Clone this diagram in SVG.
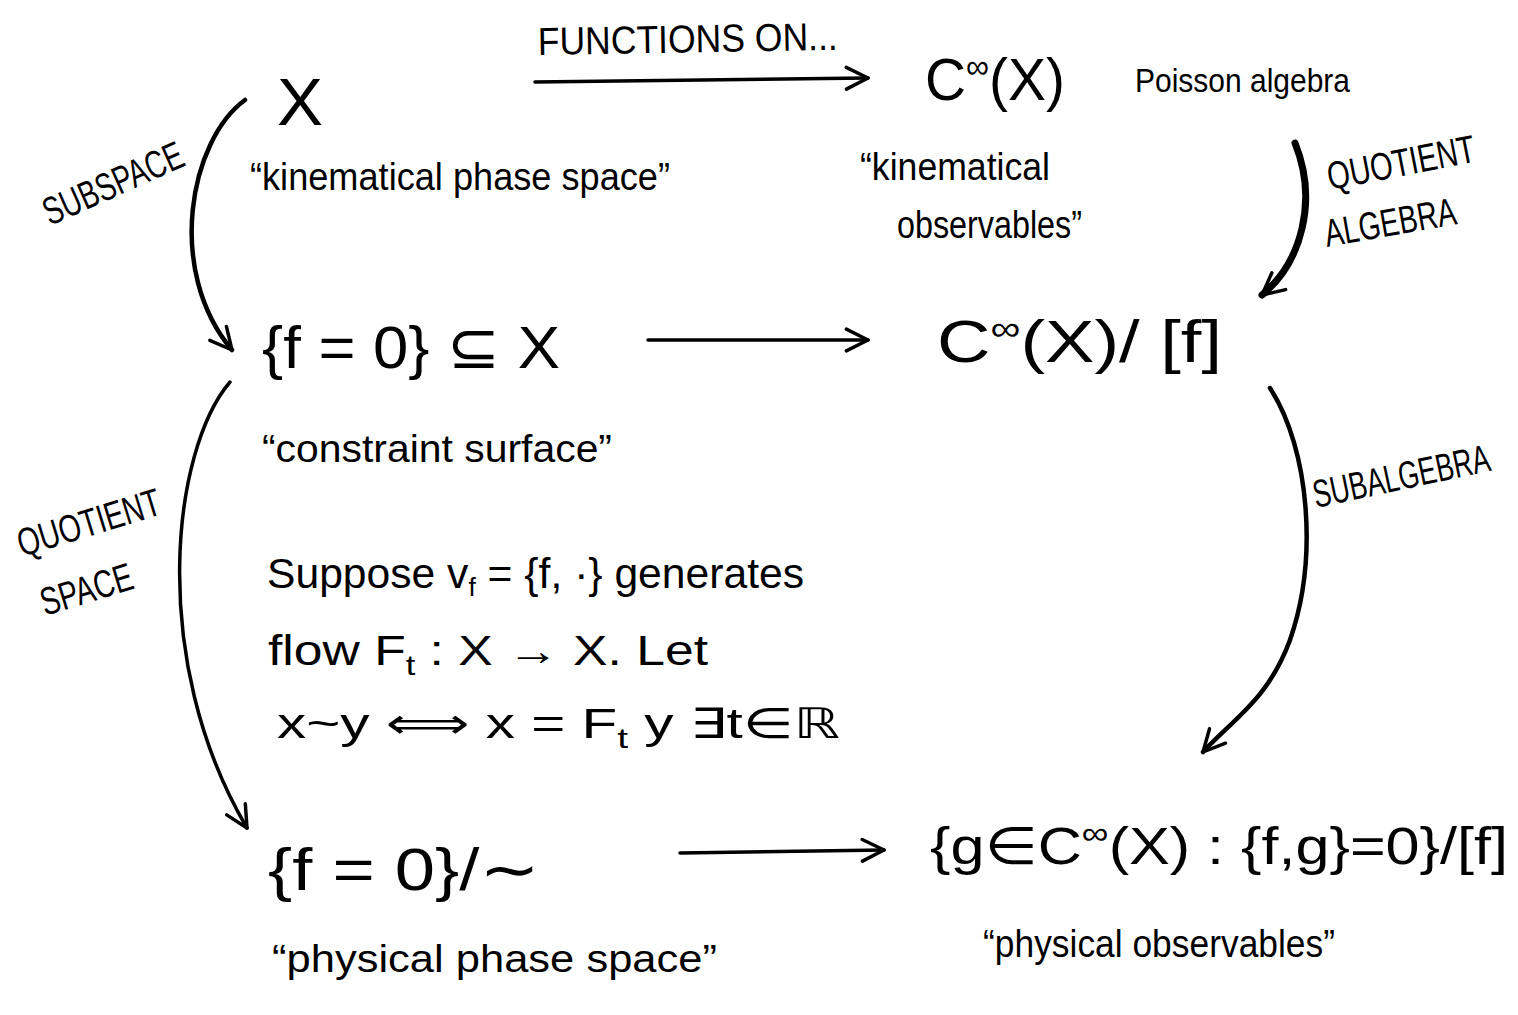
<svg xmlns="http://www.w3.org/2000/svg" width="1518" height="1015" viewBox="0 0 1518 1015">
<defs>
<style>
text{font-family:"Liberation Sans","DejaVu Sans",sans-serif;fill:#000;}
.lbl{font-size:30px;}
.cap{font-size:38px;}
.big{font-size:60px;}
.mid{font-size:42px;}
.conn{fill:none;stroke:#000;stroke-width:3.5;stroke-linecap:round;}
</style>
<marker id="ah" viewBox="0 0 12 12" refX="11" refY="6" markerWidth="26" markerHeight="26" markerUnits="userSpaceOnUse" orient="auto">
<path d="M1,1 L11,6 L1,11" fill="none" stroke="#000" stroke-width="1.6" stroke-linecap="round" stroke-linejoin="round"/>
</marker>
</defs>
<rect width="1518" height="1015" fill="#fff"/>

<g id="connectors">
<g id="e-functions">
<path class="conn" d="M535,82 L868,78" marker-end="url(#ah)"/>
<text class="lbl" x="0" y="0" textLength="300" lengthAdjust="spacingAndGlyphs" transform="translate(538,55) rotate(-1) scale(1,1.3)">FUNCTIONS ON...</text>
</g>
<g id="e-subspace">
<path class="conn" d="M245,100 C190,140 165,270 232,350" style="stroke-width:4.5" marker-end="url(#ah)"/>
<text class="lbl" x="0" y="0" textLength="150" lengthAdjust="spacingAndGlyphs" transform="translate(50,226) rotate(-24) scale(1,1.3)">SUBSPACE</text>
</g>
<g id="e-quotalg">
<path class="conn" d="M1295,143 C1318,200 1302,262 1262,295" style="stroke-width:7" marker-end="url(#ah)"/>
<text class="lbl" x="0" y="0" textLength="150" lengthAdjust="spacingAndGlyphs" transform="translate(1330,190) rotate(-11) scale(1,1.3)">QUOTIENT</text>
<text class="lbl" x="0" y="0" textLength="133" lengthAdjust="spacingAndGlyphs" transform="translate(1327,247) rotate(-10) scale(1,1.3)">ALGEBRA</text>
</g>
<g id="e-mid">
<path class="conn" d="M648,340 L868,340" marker-end="url(#ah)"/>
</g>
<g id="e-subalg">
<path class="conn" d="M1270,388 C1310,450 1318,560 1290,640 C1268,700 1232,720 1203,752" style="stroke-width:4.5" marker-end="url(#ah)"/>
<text class="lbl" x="0" y="0" textLength="180" lengthAdjust="spacingAndGlyphs" transform="translate(1316,508) rotate(-12) scale(1,1.3)">SUBALGEBRA</text>
</g>
<g id="e-quotspace">
<path class="conn" d="M230,382 C172,450 148,660 247,828" marker-end="url(#ah)"/>
<text class="lbl" x="0" y="0" textLength="148" lengthAdjust="spacingAndGlyphs" transform="translate(22,557) rotate(-17) scale(1,1.3)">QUOTIENT</text>
<text class="lbl" x="0" y="0" textLength="95" lengthAdjust="spacingAndGlyphs" transform="translate(45,616) rotate(-17) scale(1,1.3)">SPACE</text>
</g>
<g id="e-bottom">
<path class="conn" d="M680,853 L884,850" marker-end="url(#ah)"/>
</g>
</g>

<g id="n-X">
<text x="277" y="125" style="font-size:66px" textLength="46" lengthAdjust="spacingAndGlyphs">X</text>
<text class="cap" x="250" y="190" textLength="420" lengthAdjust="spacingAndGlyphs">“kinematical phase space”</text>
</g>

<g id="n-Cinf">
<text class="big" x="925" y="100" textLength="140" lengthAdjust="spacingAndGlyphs">C<tspan style="font-size:34px" dy="-22">∞</tspan><tspan dy="22">(X)</tspan></text>
<text x="1135" y="92" style="font-size:34px" textLength="215" lengthAdjust="spacingAndGlyphs">Poisson algebra</text>
<text class="cap" x="860" y="180" textLength="190" lengthAdjust="spacingAndGlyphs">“kinematical</text>
<text class="cap" x="897" y="238" textLength="185" lengthAdjust="spacingAndGlyphs">observables”</text>
</g>

<g id="n-constraint">
<text class="big" x="262" y="368" textLength="298" lengthAdjust="spacingAndGlyphs">{f = 0} ⊆ X</text>
<text class="cap" x="262" y="462" textLength="350" lengthAdjust="spacingAndGlyphs">“constraint surface”</text>
</g>

<g id="n-quotalg">
<text class="big" x="937" y="362" textLength="285" lengthAdjust="spacingAndGlyphs">C<tspan style="font-size:34px" dy="-22">∞</tspan><tspan dy="22">(X)/ [f]</tspan></text>
</g>

<g id="n-text">
<text class="mid" x="267" y="588" textLength="537" lengthAdjust="spacingAndGlyphs">Suppose  v<tspan style="font-size:26px" dy="8">f</tspan><tspan dy="-8"> = {f, ·}  generates</tspan></text>
<text class="mid" x="268" y="665" textLength="440" lengthAdjust="spacingAndGlyphs">flow  F<tspan style="font-size:28px" dy="10">t</tspan><tspan dy="-10"> : X → X.  Let</tspan></text>
<text class="mid" x="277" y="738" textLength="563" lengthAdjust="spacingAndGlyphs">x~y  ⟺  x = F<tspan style="font-size:28px" dy="10">t</tspan><tspan dy="-10"> y    ∃t∈ℝ</tspan></text>
</g>

<g id="n-physspace">
<text class="big" x="268" y="890" textLength="272" lengthAdjust="spacingAndGlyphs">{f = 0}/∼</text>
<text class="cap" x="272" y="972" textLength="445" lengthAdjust="spacingAndGlyphs">“physical phase space”</text>
</g>

<g id="n-physobs">
<text style="font-size:52px" x="930" y="864" textLength="578" lengthAdjust="spacingAndGlyphs">{g∈C<tspan style="font-size:32px" dy="-20">∞</tspan><tspan dy="20">(X) : {f,g}=0}/[f]</tspan></text>
<text class="cap" x="983" y="957" textLength="352" lengthAdjust="spacingAndGlyphs">“physical observables”</text>
</g>
</svg>
